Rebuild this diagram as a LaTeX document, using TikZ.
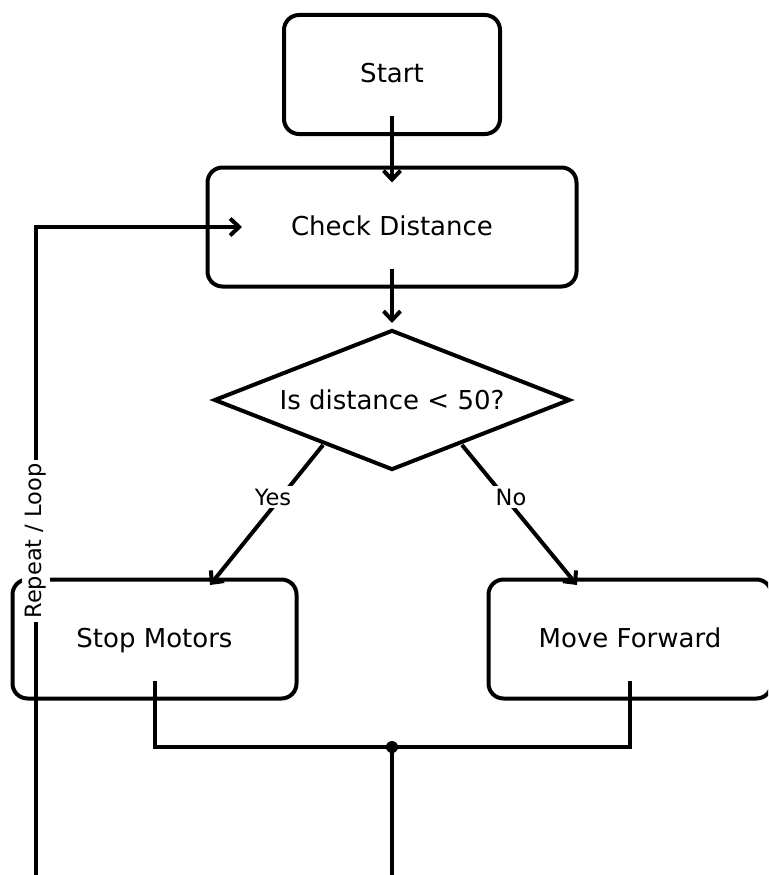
\documentclass[tikz,border=0pt]{standalone}
\usepackage{fontspec}
\setmainfont{DejaVu Sans}
\usetikzlibrary{shapes,positioning,calc,arrows.meta}

\tikzset{
  stepbox/.style={draw, line width=4pt, rounded corners=15pt, minimum height=119pt,
    inner sep=0pt, text height=20pt, text depth=4pt, font=\fontsize{26}{30}\selectfont},
  decision/.style={draw, diamond, aspect=2.543, line width=4pt, minimum width=356pt,
    minimum height=140pt, inner sep=0pt, font=\fontsize{26}{30}\selectfont},
  flow/.style={line width=4pt, -{Straight Barb[length=9pt,width=17pt]}},
  wire/.style={line width=4pt},
  lbl/.style={fill=white, inner sep=3pt, font=\fontsize{22.5}{27}\selectfont},
}

\begin{document}
\begin{tikzpicture}[x=1pt,y=-1pt]
    \clip (0,0) rectangle (768,875);

    % Boxes
    \node[stepbox, minimum width=216pt] (start) at (392,74.5) {Start};
    \node[stepbox, minimum width=369pt] (check) at (392,227) {Check Distance};
    \node[decision] (test) at (392,400) {Is distance < 50?};
    \node[stepbox, minimum width=284pt] (stop) at (154.5,639) {Stop Motors};
    \node[stepbox, minimum width=283pt] (move) at (630,639) {Move Forward};

    % Arrows down the middle
    \draw[flow, shorten <=-20pt, shorten >=-17pt] (start) -- (check);
    \draw[flow, shorten <=-20pt, shorten >=5pt] (check) -- (test);

    % Yes / No branches
    \coordinate (yes-a) at (323,445);
    \coordinate (yes-b) at (210,585);
    \coordinate (no-a) at (462,445);
    \coordinate (no-b) at (577,585);
    \draw[flow] (yes-a) -- (yes-b);
    \draw[flow] (no-a) -- (no-b);
    \node[lbl] (yes) at (273,497) {Yes};
    \node[lbl] (no) at (511,497) {No};

    % Join below the two actions
    \coordinate (merge) at (392,747);
    \coordinate (merge-end) at (392,875);
    \draw[wire] ([yshift=-42pt]stop.center) |- (merge) -| ([yshift=-42pt]move.center);
    \draw[wire] (merge) -- (merge-end);
    \fill (merge) circle (6pt);

    % Loop back
    \coordinate (loop-end) at (36,875);
    \draw[flow] (loop-end) |- ([xshift=-150pt]check.center);
    \node[lbl, rotate=90] (loop) at (36,541) {Repeat / Loop};
\end{tikzpicture}
\end{document}
